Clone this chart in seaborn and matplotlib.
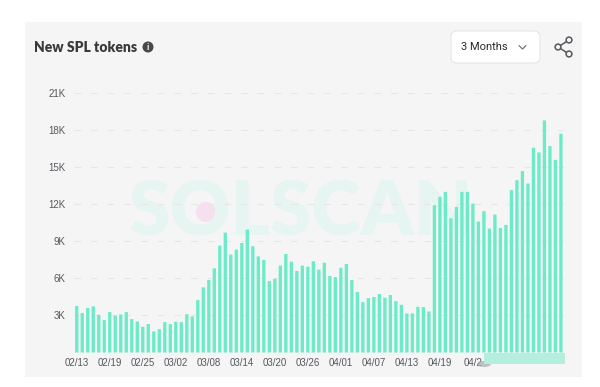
import matplotlib
matplotlib.use("Agg")
import matplotlib.pyplot as plt
from matplotlib.patches import Rectangle, FancyBboxPatch, Circle, Ellipse
import seaborn as sns
import pandas as pd

days = pd.date_range("2022-02-13", periods=89).strftime("%m/%d").tolist()
new_tokens = [3760, 3190, 3600, 3730, 3050, 2620, 3270, 3000, 3080, 3270,
              2700, 2510, 2080, 2300, 1700, 1890, 2460, 2300, 2490, 2460,
              3100, 2920, 4240, 5270, 5860, 6810, 8650, 9700, 7920, 8320,
              8860, 9950, 8600, 7780, 7490, 5780, 5970, 7030, 7970, 7350,
              6600, 7030, 6950, 7380, 6700, 7270, 6190, 6100, 6860, 7160,
              5860, 4890, 4080, 4400, 4490, 4730, 4430, 4650, 4160, 3860,
              3160, 3160, 3700, 3680, 3320, 11920, 12600, 13000, 10860, 11780,
              13000, 13000, 12050, 10600, 11430, 10030, 11160, 10080, 10320, 13140,
              13950, 14680, 13680, 16570, 16190, 18780, 16700, 15590, 17700]
x_labels = ["02/13", "02/19", "02/25", "03/02", "03/08", "03/14", "03/20",
            "03/26", "04/01", "04/07", "04/13", "04/19", "04/2"]
y_ticks = [3000, 6000, 9000, 12000, 15000, 18000, 21000]
y_labels = ["3K", "6K", "9K", "12K", "15K", "18K", "21K"]

BAR = "#6cebc9"
INK = "#3a3a3c"
W, H = 600, 387

sns.set_theme(style="white")
plt.rcParams["font.family"] = ["Lato", "DejaVu Sans"]

fig = plt.figure(figsize=(6, 3.87), dpi=100, facecolor="white")

# page furniture, in pixel coordinates
bg = fig.add_axes([0, 0, 1, 1], zorder=0)
bg.set_xlim(0, W); bg.set_ylim(H, 0); bg.axis("off")
bg.add_patch(Rectangle((25, 22), 557, 355, fc="#f5f5f5", ec="none"))
bg.text(301, 213, "SOLSCAN", ha="center", va="center", fontsize=54, fontweight="heavy",
        color="#e6f5f1", family=["Lato", "DejaVu Sans"])
bg.add_patch(Circle((206, 212), 10, fc="#f6dfee", ec="none"))

bg.text(34, 47, "New SPL tokens", ha="left", va="center", fontsize=10, fontweight="heavy", color=INK)
bg.add_patch(Circle((148, 47), 5.5, fc="#48484a", ec="none"))
bg.text(148, 47, "i", ha="center", va="center", fontsize=6.5, fontweight="bold", color="white")

bg.add_patch(FancyBboxPatch((454, 34), 83, 26, boxstyle="round,pad=3,rounding_size=6",
                            fc="white", ec="#e6e6e6", lw=0.8))
bg.text(461, 47, "3 Months", ha="left", va="center", fontsize=8, color="#2b2b2d",
        family=["Roboto", "DejaVu Sans"])
bg.plot([519, 522.5, 526], [45.5, 49, 45.5], color="#6a6a6a", lw=0.8)
bg.plot([569, 558, 569], [40, 47, 54], color="#55585c", lw=1.1)
for cx, cy in [(569, 40), (558, 47), (569, 54)]:
    bg.add_patch(Circle((cx, cy), 2.9, fc="#f5f5f5", ec="#55585c", lw=1.1, zorder=3))

# chart
base_y, top_y = 352.5, 93
left_x, right_x = 74, 563.7
ax = fig.add_axes([left_x / W, 1 - base_y / H, (right_x - left_x) / W, (base_y - top_y) / H], zorder=1)
ax.patch.set_alpha(0)
sns.barplot(x=days, y=new_tokens, color=BAR, saturation=1, width=0.6, ax=ax, zorder=3)
for bar in ax.patches:
    bar.set_snap(False)
    bar.set_linewidth(0)
ax.set_xlim(-0.5, 88.5)
ax.set_ylim(0, 21000)
ax.set_yticks(y_ticks)
ax.set_yticklabels(y_labels)
ax.set_xticks(range(0, len(x_labels) * 6, 6))
ax.set_xticklabels(x_labels)
ax.set_xlabel(""); ax.set_ylabel("")
ax.grid(axis="y", color="#e6e6e6", lw=0.8, ls=(0, (6, 9)), zorder=1)
ax.grid(axis="x", visible=False)
ax.tick_params(axis="both", length=0, labelsize=7, labelcolor="#55585c")
ax.tick_params(axis="x", pad=4)
ax.tick_params(axis="y", pad=6)
for lb in ax.get_xticklabels() + ax.get_yticklabels():
    lb.set_family(["Liberation Sans", "DejaVu Sans"])
sns.despine(ax=ax, left=True, bottom=True, top=True, right=True)

# pale smear along the lower right edge of the source image
fg = fig.add_axes([0, 0, 1, 1], zorder=2)
fg.set_xlim(0, W); fg.set_ylim(H, 0); fg.axis("off")
fg.add_patch(Ellipse((484, 364), 14, 6, fc="#a9a9a9", ec="none", alpha=0.7))
fg.add_patch(Rectangle((484, 353), 81, 11, fc="#b4efdd", ec="none"))

fig.savefig("out.png", dpi=100, facecolor="white")
